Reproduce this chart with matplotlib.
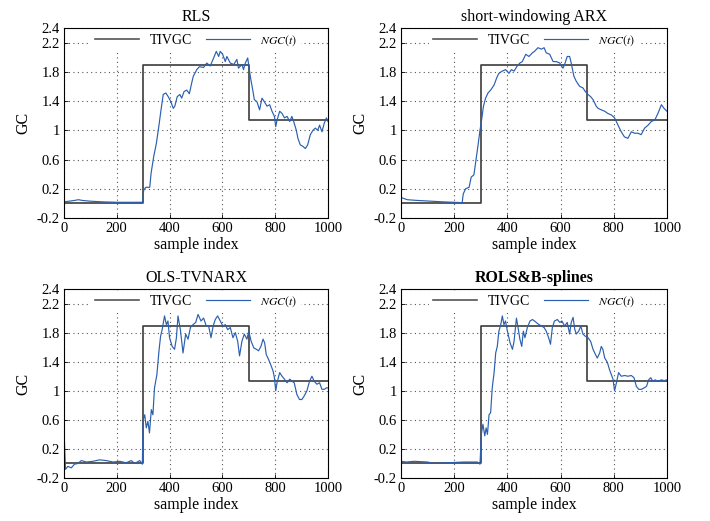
import matplotlib
matplotlib.use('Agg')
import matplotlib.pyplot as plt

plt.rcParams['font.family'] = ['Liberation Serif', 'DejaVu Serif']
plt.rcParams['mathtext.fontset'] = 'stix'

# true (time-invariant) GC, piecewise constant
tiv_t = [0, 300, 700, 1000]
tiv_g = [0.0, 1.89, 1.14, 1.14]

# RLS estimate
rls_t = [0, 20, 40, 55, 70, 100, 150, 200, 250, 298, 302, 310, 325, 330, 340, 350, 360, 367, 376, 386,
         395, 405, 414, 420, 429, 439, 446, 455, 465, 475, 484, 490, 496, 503, 513, 529, 541, 554, 567, 577,
         586, 592, 601, 611, 617, 630, 643, 655, 661, 674, 680, 687, 696, 702, 708, 716, 721, 731, 741, 750,
         759, 769, 779, 788, 797, 802, 807, 817, 826, 835, 845, 855, 863, 870, 880, 886, 895, 905, 914, 923,
         933, 943, 952, 961, 968, 977, 986, 994, 1000]
rls_g = [0.02, 0.03, 0.04, 0.05, 0.04, 0.03, 0.02, 0.015, 0.015, 0.015, 0.18, 0.22, 0.22, 0.41, 0.64, 0.82, 1.07, 1.26, 1.49, 1.51,
         1.46, 1.39, 1.30, 1.33, 1.46, 1.49, 1.44, 1.53, 1.55, 1.50, 1.65, 1.74, 1.78, 1.83, 1.87, 1.86, 1.92, 1.88, 1.99, 2.08,
         2.01, 2.08, 2.04, 1.94, 2.01, 1.92, 1.90, 1.97, 1.85, 1.90, 1.83, 1.92, 1.99, 1.83, 1.69, 1.53, 1.42, 1.39, 1.28, 1.44,
         1.39, 1.33, 1.35, 1.26, 1.19, 1.05, 1.14, 1.26, 1.23, 1.17, 1.19, 1.12, 1.19, 1.12, 1.0, 0.89, 0.80, 0.78, 0.75, 0.80,
         0.94, 1.0, 1.03, 1.0, 1.07, 0.98, 1.10, 1.17, 1.12]

# short-windowing ARX estimate
arx_t = [0, 24, 61, 112, 162, 230, 234, 243, 256, 264, 274, 281, 289, 297, 303, 310, 318, 327, 337, 350,
         360, 368, 381, 393, 406, 415, 425, 437, 447, 456, 469, 481, 494, 502, 515, 528, 538, 546, 559, 572,
         584, 597, 609, 615, 625, 634, 640, 650, 659, 672, 684, 693, 703, 713, 722, 734, 741, 753, 766, 778,
         791, 803, 816, 828, 840, 853, 866, 878, 891, 903, 916, 929, 941, 954, 966, 979, 989, 1000]
arx_g = [0.08, 0.05, 0.04, 0.03, 0.02, 0.01, 0.13, 0.20, 0.22, 0.36, 0.39, 0.57, 0.78, 1.0, 1.14, 1.33, 1.44, 1.51, 1.55, 1.62,
         1.72, 1.78, 1.81, 1.83, 1.78, 1.83, 1.81, 1.88, 1.92, 1.94, 2.04, 2.01, 2.06, 2.08, 2.13, 2.11, 2.13, 2.06, 2.04, 1.94,
         1.94, 1.92, 1.85, 1.90, 2.01, 2.01, 1.92, 1.74, 1.67, 1.60, 1.58, 1.53, 1.49, 1.46, 1.42, 1.33, 1.30, 1.28, 1.26, 1.23,
         1.21, 1.17, 1.07, 0.98, 0.91, 0.89, 0.98, 0.96, 0.96, 0.94, 1.03, 1.07, 1.12, 1.14, 1.23, 1.35, 1.30, 1.26]

# OLS-TVNARX estimate
ols_t = [0, 2, 6, 15, 28, 40, 53, 66, 85, 110, 135, 160, 186, 211, 236, 255, 268, 287, 297, 300,
         306, 312, 318, 324, 331, 337, 343, 352, 360, 366, 372, 381, 388, 394, 400, 410, 419, 426, 432, 441,
         451, 461, 470, 479, 489, 499, 508, 519, 529, 539, 548, 557, 565, 573, 582, 592, 602, 611, 620, 630,
         640, 649, 658, 665, 674, 683, 693, 700, 709, 719, 729, 737, 746, 754, 760, 766, 775, 785, 792, 797,
         802, 807, 817, 826, 835, 845, 855, 864, 872, 882, 892, 901, 910, 920, 930, 939, 948, 958, 968, 977,
         986, 994, 1000]
ols_g = [1.18, 0.3, -0.08, -0.04, -0.06, -0.01, 0.0, 0.04, 0.02, 0.03, 0.05, 0.04, 0.02, 0.03, 0.01, 0.04, 0.0, 0.04, -0.01, 0.60,
         0.67, 0.49, 0.58, 0.42, 0.74, 0.67, 1.04, 1.22, 1.55, 1.75, 1.84, 2.03, 1.91, 1.96, 1.73, 1.61, 1.57, 1.73, 2.03, 1.84,
         1.52, 1.78, 1.71, 1.87, 1.91, 1.94, 2.05, 1.96, 2.0, 1.89, 1.89, 1.73, 1.89, 1.98, 2.03, 1.96, 1.89, 1.91, 1.84, 1.87,
         1.73, 1.80, 1.68, 1.48, 1.68, 1.78, 1.71, 1.82, 1.68, 1.59, 1.57, 1.55, 1.61, 1.71, 1.66, 1.50, 1.43, 1.34, 1.27, 1.18,
         1.0, 1.11, 1.25, 1.20, 1.16, 1.11, 1.16, 1.13, 1.11, 0.95, 0.88, 0.88, 0.93, 1.0, 1.13, 1.20, 1.13, 1.09, 1.11, 1.02,
         1.02, 1.04, 1.04]

# ROLS & B-splines estimate
rols_t = [0, 20, 50, 100, 124, 174, 237, 287, 297, 302, 308, 315, 320, 325, 331, 337, 343, 350, 356, 362,
          368, 375, 381, 387, 393, 400, 410, 419, 425, 434, 440, 447, 454, 460, 466, 475, 485, 494, 502, 515,
          528, 538, 546, 555, 562, 569, 577, 588, 597, 605, 615, 625, 634, 640, 647, 653, 659, 668, 676, 684,
          693, 703, 713, 722, 731, 738, 747, 753, 759, 766, 776, 784, 791, 797, 803, 810, 818, 828, 841, 853,
          866, 876, 885, 894, 904, 914, 923, 931, 939, 947, 956, 966, 979, 989, 1000]
rols_g = [0.03, 0.02, 0.03, 0.02, 0.0, 0.01, 0.02, 0.02, -0.01, 0.40, 0.54, 0.38, 0.49, 0.40, 0.67, 0.70, 1.04, 1.25, 1.52, 1.61,
          1.82, 1.91, 2.03, 1.91, 1.96, 1.82, 1.66, 1.57, 1.68, 2.0, 1.87, 1.71, 1.61, 1.82, 1.73, 1.87, 1.96, 1.98, 1.96, 1.92,
          1.89, 1.87, 1.82, 1.73, 1.64, 1.87, 1.96, 1.98, 1.94, 1.96, 1.89, 1.94, 1.78, 1.94, 2.01, 1.85, 1.78, 1.82, 1.89, 1.78,
          1.75, 1.73, 1.68, 1.57, 1.50, 1.45, 1.52, 1.61, 1.57, 1.45, 1.39, 1.29, 1.22, 1.16, 1.0, 1.11, 1.25, 1.20, 1.21, 1.20,
          1.21, 1.18, 1.06, 1.02, 1.02, 1.04, 1.06, 1.15, 1.18, 1.13, 1.15, 1.13, 1.15, 1.14, 1.15]

titles = ['RLS', 'short-windowing ARX', 'OLS-TVNARX', 'ROLS&B-splines']
series = [(rls_t, rls_g), (arx_t, arx_g), (ols_t, ols_g), (rols_t, rols_g)]
yticks = [-0.2, 0.2, 0.6, 1, 1.4, 1.8, 2.2, 2.4]
ytick_labels = ['-0.2', '0.2', '0.6', '1', '1.4', '1.8', '2.2', '2.4']
xticks = [0, 200, 400, 600, 800, 1000]

fig = plt.figure(figsize=(7.1, 5.21), dpi=100)
boxes = [[0.090, 0.5816, 0.372, 0.3647],
         [0.5648, 0.5816, 0.3746, 0.3647],
         [0.090, 0.0825, 0.372, 0.3628],
         [0.5648, 0.0825, 0.3746, 0.3628]]

for i, box in enumerate(boxes):
    ax = fig.add_axes(box)
    t, g = series[i]
    ax.plot(tiv_t, tiv_g, drawstyle='steps-post', color='#3c3c3c', lw=1.2, label='TIVGC', zorder=2)
    ax.plot(t, g, color='#2b5fb0', lw=0.85, label=r'$NGC(t)$', zorder=2.1)
    ax.set_xlim(0, 1000)
    ax.set_ylim(-0.2, 2.4)
    ax.set_xticks(xticks)
    ax.set_yticks(yticks)
    ax.set_yticklabels(ytick_labels)
    ax.tick_params(direction='in', labelsize=10.5, length=3, width=0.6, pad=3)
    ax.grid(True, linestyle=(0, (1, 3)), color='#555555', lw=0.8)
    for s in ax.spines.values():
        s.set_linewidth(0.8)
    ax.set_xlabel('sample index', fontsize=11.5, labelpad=1)
    ax.set_ylabel('GC', fontsize=11.5)
    ax.set_title(titles[i], fontsize=11.5, pad=5,
                 fontweight='bold' if i == 3 else 'normal')
    leg = ax.legend(loc='upper center', ncol=2, frameon=True, fontsize=10,
                    handlelength=3.2, handletextpad=0.75, columnspacing=1.0,
                    borderaxespad=0.15, borderpad=0.25, fancybox=False,
                    facecolor='white', edgecolor='none', framealpha=1)
    leg.set_zorder(1.8)
    leg.get_texts()[1].set_fontsize(8.5)
    leg.get_lines()[0].set_color('#555555')

fig.savefig('out.png', dpi=100)
